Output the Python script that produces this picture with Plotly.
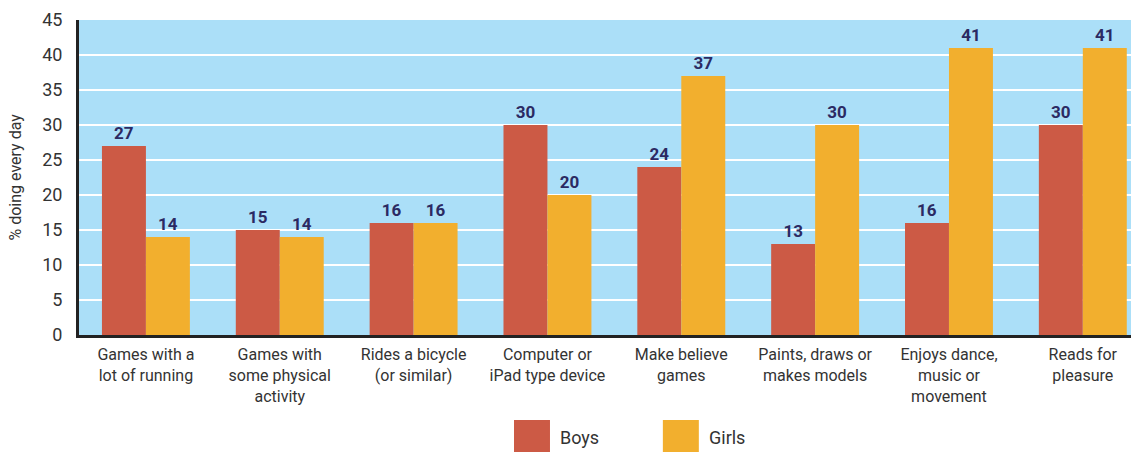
import plotly.graph_objects as go

# -----------------------------
# DATA
# -----------------------------
categories = [
    "Games with a<br>lot of running",
    "Games with<br>some physical<br>activity",
    "Rides a bicycle<br>(or similar)",
    "Computer or<br>iPad type device",
    "Make believe<br>games",
    "Paints, draws or<br>makes models",
    "Enjoys dance,<br>music or<br>movement",
    "Reads for<br>pleasure",
]
boys = [27, 15, 16, 30, 24, 13, 16, 30]
girls = [14, 14, 16, 20, 37, 30, 41, 41]
y_ticks = [0, 5, 10, 15, 20, 25, 30, 35, 40, 45]

BOYS_COL = "#CC5A45"
GIRLS_COL = "#F2AF2E"
LABEL_COL = "#2B2A63"
FONT = "Roboto, Arial, sans-serif"

x_pos = list(range(len(categories)))

# -----------------------------
# FIGURE
# -----------------------------
fig = go.Figure()

for vals, name, col in [(boys, "Boys", BOYS_COL), (girls, "Girls", GIRLS_COL)]:
    fig.add_trace(go.Bar(
        x=x_pos, y=vals, name=name,
        marker=dict(color=col, line=dict(width=0)),
        text=vals, textposition="outside",
        textfont=dict(color=LABEL_COL, size=17, family=FONT, weight="bold"),
        cliponaxis=False,
    ))

fig.update_layout(
    width=1131, height=452,
    margin=dict(l=79, r=0, t=20, b=117, autoexpand=False),
    paper_bgcolor="white",
    plot_bgcolor="#ABDFF8",
    barmode="group",
    bargap=0.343,
    bargroupgap=0,
    showlegend=False,
    font=dict(family=FONT, color="#333333", size=16),
)

fig.update_xaxes(
    range=[-0.5, 7.36],
    tickmode="array", tickvals=x_pos, ticktext=categories,
    tickfont=dict(size=16, color="#333333"),
    showgrid=False, zeroline=False, automargin=False,
    showline=True, linecolor="#222222", linewidth=3,
    ticks="", ticklen=0, ticklabelstandoff=3,
)

fig.update_yaxes(
    range=[0, 45],
    tickmode="array", tickvals=y_ticks,
    tickfont=dict(size=18, color="#333333"),
    showgrid=True, gridcolor="white", gridwidth=2,
    zeroline=False, automargin=False,
    showline=True, linecolor="#222222", linewidth=3,
    ticks="", ticklen=0, ticklabelstandoff=10,
)

# y-axis title
fig.add_annotation(
    x=0, y=0.5, xref="paper", yref="paper", xshift=-64,
    text="% doing every day", textangle=-90, showarrow=False,
    xanchor="center", yanchor="middle",
    font=dict(size=16, color="#333333"),
)

# custom legend at the bottom
for x0, col, label in [(0.4135, BOYS_COL, "Boys"), (0.555, GIRLS_COL, "Girls")]:
    fig.add_shape(
        type="rect", xref="paper", yref="paper",
        x0=x0, x1=x0 + 0.0342, y0=-0.372, y1=-0.27,
        fillcolor=col, line=dict(width=0),
    )
    fig.add_annotation(
        x=x0 + 0.042, y=-0.325, xref="paper", yref="paper",
        text=label, showarrow=False, xanchor="left", yanchor="middle",
        font=dict(size=18, color="#333333"),
    )

# drop the default page margin so the figure sits at the window corner
fig.write_html(
    "out.html",
    config={"displayModeBar": False},
    post_script="document.body.style.margin='0';document.body.style.overflow='hidden';",
)
